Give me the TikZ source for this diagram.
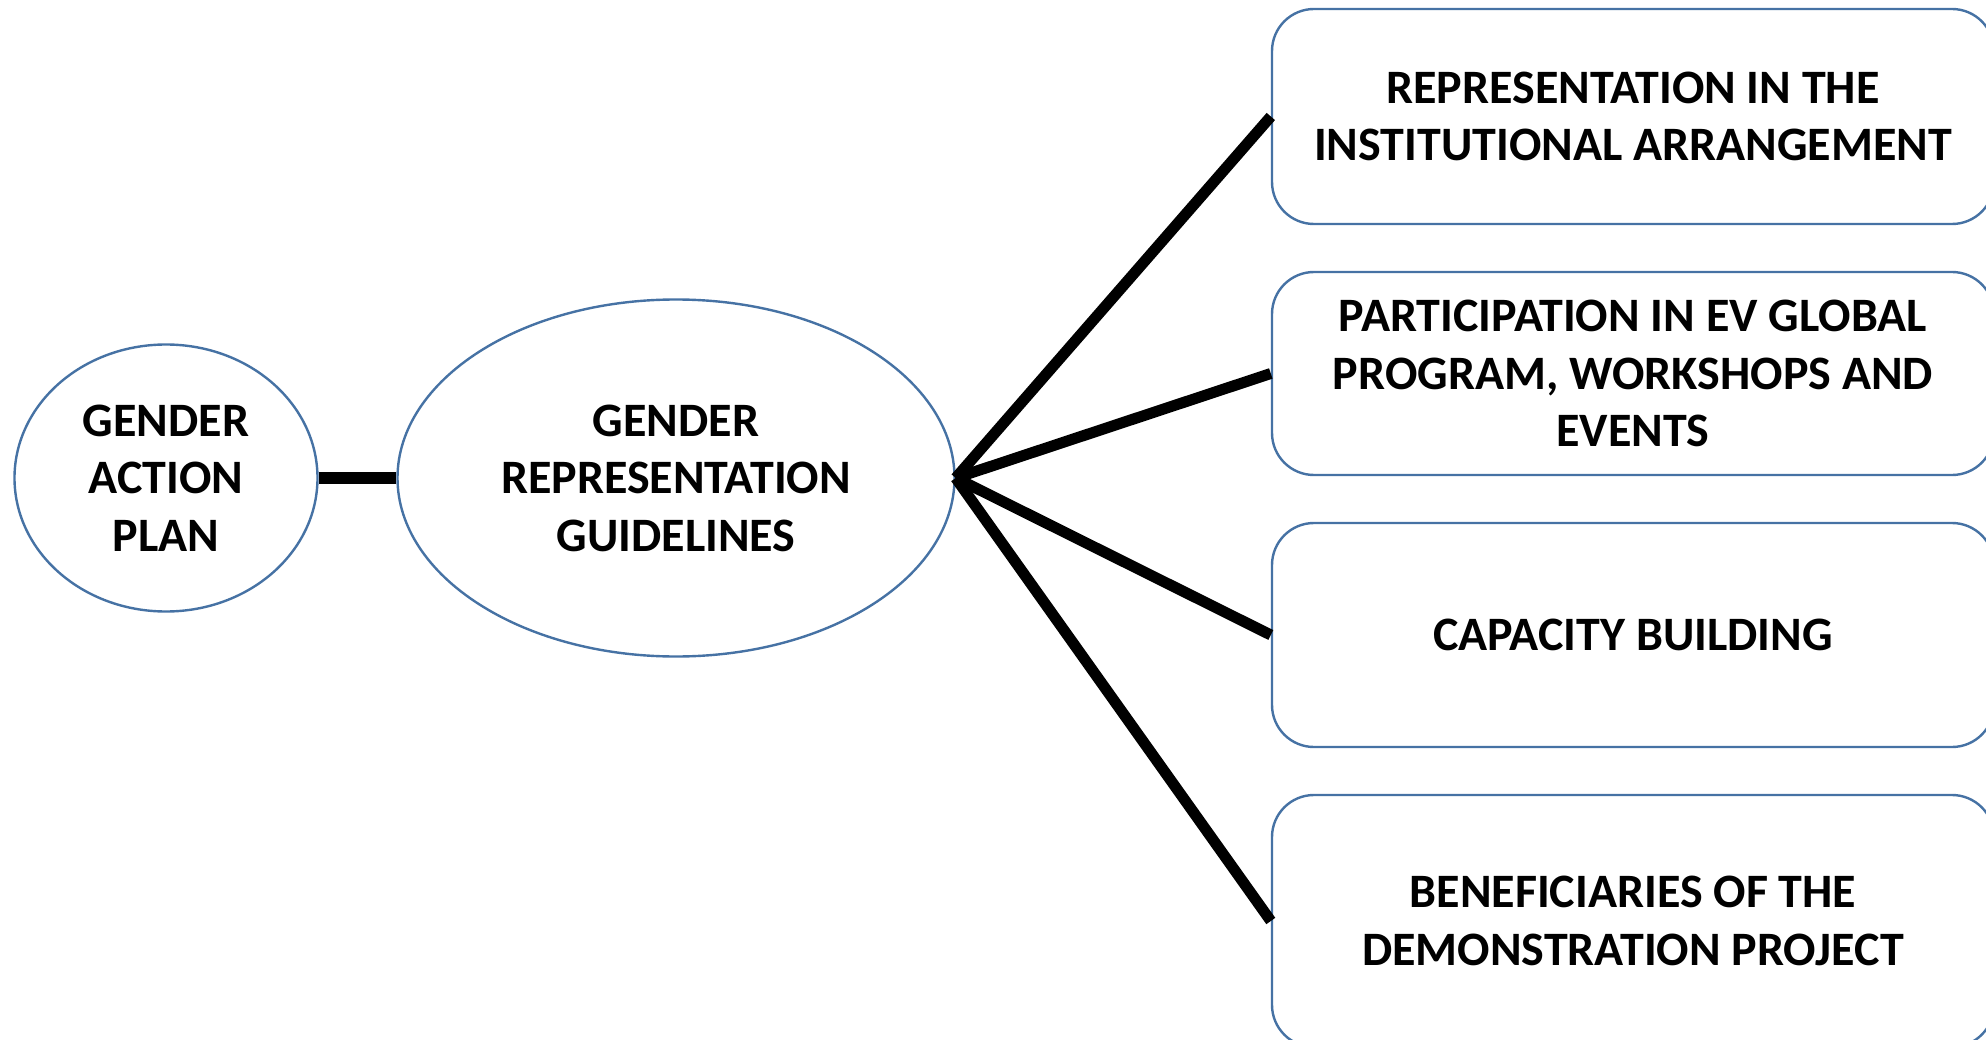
\documentclass[tikz,border=0pt]{standalone}
\usepackage{fontspec}
\setmainfont{Carlito}
\usetikzlibrary{shapes.geometric}
\definecolor{outline}{HTML}{4672A4}
\begin{document}
\begin{tikzpicture}[x=1pt,y=-1pt,
  label/.style={font=\fontsize{48}{57.5}\selectfont\bfseries, align=center, text=black},
  oval/.style={ellipse, draw=outline, line width=2.4pt, fill=white, inner sep=0pt, label},
  card/.style={rectangle, draw=outline, line width=2.4pt, fill=white, rounded corners=42pt,
    inner sep=0pt, minimum width=722pt, label},
  link/.style={line width=11pt, black}]
\useasboundingbox (0,0) rectangle (1986,1040);
\clip (0,0) rectangle (1986,1040);

% central chain
\node[oval, minimum width=303pt, minimum height=267pt] (gap) at (166,478) {GENDER\\ACTION\\PLAN};
\node[oval, minimum width=557pt, minimum height=357pt] (grg) at (676,478) {GENDER\\REPRESENTATION\\GUIDELINES};

% outcome cards
\node[card, minimum height=215pt] (b1) at (1633,116.5) {REPRESENTATION IN THE\\INSTITUTIONAL ARRANGEMENT};
\node[card, minimum height=203pt] (b2) at (1633,373.5) {PARTICIPATION IN EV GLOBAL\\PROGRAM, WORKSHOPS AND\\EVENTS};
\node[card, minimum height=224pt] (b3) at (1633,635) {CAPACITY BUILDING};
\node[card, minimum height=252pt] (b4) at (1633,921) {BENEFICIARIES OF THE\\DEMONSTRATION PROJECT};

% connectors
\draw[link, line width=12pt] (gap.east) -- (grg.west);
\foreach \b in {b1,b2,b3,b4}
  \draw[link] (grg.east) -- (\b.west);
\end{tikzpicture}
\end{document}
